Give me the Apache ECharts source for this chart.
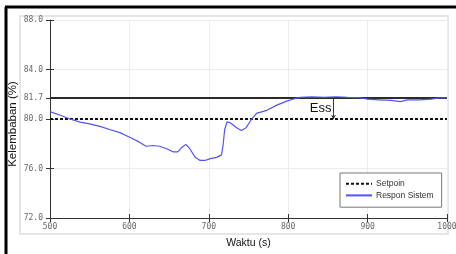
<!DOCTYPE html>
<html>
<head>
<meta charset="utf-8">
<script src="https://cdn.jsdelivr.net/npm/echarts@6.0.0/dist/echarts.min.js"></script>
<style>
  html, body { margin: 0; padding: 0; background: #fff; }
  #chart { width: 456px; height: 254px; }
</style>
</head>
<body>
<div id="chart"></div>
<script>
  // waktu (s) dan kelembaban (%)
  var waktu = [500, 513, 525, 538, 550, 563, 575, 588, 601, 612, 621, 630, 638, 647, 655, 661, 666, 671, 676, 683,
    689, 695, 702, 710, 716, 718, 720, 723, 727, 735, 741, 747, 753, 760, 773, 785, 798, 806, 815, 830,
    845, 860, 875, 890, 900, 915, 930, 941, 950, 965, 980, 990, 1000]
  var respon = [80.6, 80.3, 80.0, 79.75, 79.6, 79.4, 79.15, 78.9, 78.5, 78.15, 77.8, 77.86, 77.8, 77.6, 77.35, 77.35, 77.7, 77.95, 77.6, 76.9,
    76.65, 76.65, 76.8, 76.9, 77.1, 77.9, 79.15, 79.77, 79.7, 79.3, 79.07, 79.3, 79.9, 80.45, 80.7, 81.1, 81.44, 81.6, 81.75, 81.78,
    81.75, 81.8, 81.75, 81.72, 81.6, 81.55, 81.5, 81.4, 81.55, 81.55, 81.6, 81.7, 81.7]
  var setpoin = 80.0
  var steady = 81.7
  var essAt = 857
  var yTicks = [72, 76, 80, 81.7, 84, 88]
  var xRange = [500, 1000]

  var labelFont = { color: '#666', fontSize: 8, fontFamily: 'DejaVu Sans Mono' }
  var gridBox = { left: 50, top: 20, right: 9, bottom: 36, outerBoundsMode: 'none' }

  var chart = echarts.init(document.getElementById('chart'))
  chart.setOption({
    animation: false,
    graphic: [
      { type: 'rect', shape: { x: 20, y: 16, width: 428, height: 218 }, style: { fill: 'none', stroke: '#e6e6e6', lineWidth: 2 }, z: -1 },
      { type: 'line', shape: { x1: 6, y1: 7, x2: 6, y2: 254 }, style: { stroke: '#000', lineWidth: 3 } },
      { type: 'line', shape: { x1: 5, y1: 7, x2: 456, y2: 7 }, style: { stroke: '#000', lineWidth: 3 } }
    ],
    grid: [
      Object.assign({}, gridBox),
      Object.assign({}, gridBox)
    ],
    legend: {
      orient: 'vertical',
      left: 340,
      top: 173,
      padding: [6, 8, 7, 5],
      itemGap: 2,
      itemWidth: 26,
      itemHeight: 12,
      backgroundColor: '#fff',
      borderColor: '#777',
      borderWidth: 1,
      borderRadius: 0,
      itemStyle: { opacity: 0 },
      textStyle: { color: '#333', fontSize: 8.5, fontFamily: 'Liberation Sans', padding: [0, 0, 0, -1] },
      data: ['Setpoin', 'Respon Sistem']
    },
    xAxis: [
      {
        type: 'value',
        gridIndex: 0,
        min: xRange[0],
        max: xRange[1],
        interval: 100,
        name: 'Waktu (s)',
        nameLocation: 'middle',
        nameMoveOverlap: false,
        nameGap: 20,
        nameTextStyle: { color: '#111', fontSize: 10.5, fontFamily: 'Liberation Sans' },
        axisLine: { lineStyle: { color: '#333', width: 1 } },
        axisTick: { show: true, length: 4, lineStyle: { color: '#333' } },
        axisLabel: Object.assign({ margin: 5, formatter: function (v) { return String(v) } }, labelFont),
        splitLine: { show: true, lineStyle: { color: '#ececec', width: 1 } }
      },
      {
        type: 'value',
        gridIndex: 1,
        min: xRange[0],
        max: xRange[1],
        interval: 100,
        axisLine: { show: false },
        axisTick: { show: true, inside: true, length: 4, lineStyle: { color: '#333' } },
        axisLabel: { show: false },
        splitLine: { show: false }
      }
    ],
    yAxis: [
      {
        type: 'value',
        gridIndex: 0,
        min: 72,
        max: 88,
        interval: 4,
        name: 'Kelembaban (%)',
        nameLocation: 'middle',
        nameMoveOverlap: false,
        nameGap: 31,
        nameTextStyle: { color: '#111', fontSize: 11.5, fontFamily: 'Liberation Sans', padding: [0, 10, 0, 0] },
        axisLine: { show: true, lineStyle: { color: '#333', width: 1 } },
        axisTick: { show: true, length: 4, customValues: yTicks, lineStyle: { color: '#333' } },
        axisLabel: Object.assign({
          margin: 7,
          customValues: yTicks,
          formatter: function (v) { return v.toFixed(1) }
        }, labelFont),
        splitLine: { show: true, lineStyle: { color: '#ececec', width: 1 } }
      },
      {
        type: 'value',
        gridIndex: 1,
        min: 72,
        max: 88,
        axisLine: { show: false },
        axisTick: { show: true, inside: true, length: 4, customValues: yTicks, lineStyle: { color: '#333' } },
        axisLabel: { show: false },
        splitLine: { show: false }
      }
    ],
    series: [
      {
        name: 'Steady',
        type: 'line',
        symbol: 'none',
        silent: true,
        z: 3,
        lineStyle: { color: '#2b2b2b', width: 2 },
        data: xRange.map(function (t) { return [t, steady] })
      },
      {
        name: 'Setpoin',
        type: 'line',
        symbol: 'none',
        z: 3,
        itemStyle: { color: '#111' },
        lineStyle: { color: '#111', width: 2, type: [3, 2] },
        data: xRange.map(function (t) { return [t, setpoin] })
      },
      {
        name: 'Respon Sistem',
        type: 'line',
        symbol: 'none',
        z: 4,
        itemStyle: { color: '#1a1aff' },
        lineStyle: { color: '#5252ff', width: 1.2 },
        data: waktu.map(function (t, i) { return [t, respon[i]] })
      },
      {
        name: 'Ess',
        type: 'line',
        symbol: 'none',
        silent: true,
        z: 5,
        lineStyle: { color: '#333', width: 1 },
        data: [],
        markLine: {
          silent: true,
          symbol: ['none', 'arrow'],
          symbolSize: 4,
          label: { show: false },
          lineStyle: { color: '#333', width: 1, type: 'solid' },
          data: [[{ coord: [essAt, steady] }, { coord: [essAt, setpoin] }]]
        },
        markPoint: {
          silent: true,
          symbol: 'circle',
          symbolSize: 0,
          label: { show: true, position: 'left', distance: 2, color: '#111', fontSize: 13, fontFamily: 'Liberation Sans', formatter: 'Ess' },
          data: [{ coord: [essAt, (steady + setpoin) / 2] }]
        }
      }
    ]
  })
</script>
</body>
</html>
